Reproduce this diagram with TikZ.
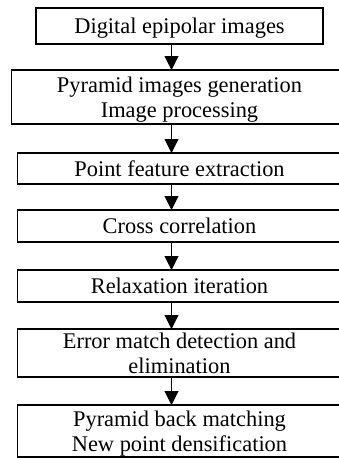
\documentclass[tikz,border=0pt]{standalone}
\usepackage{fontspec}
\setmainfont{Liberation Serif}
\usetikzlibrary{positioning,arrows.meta}

\begin{document}
\begin{tikzpicture}[->,>={Triangle[width=14pt,length=14pt]},x=1pt,y=1pt,
                    line width=1pt]
  \tikzstyle{stage}=[draw,line width=1.2pt,minimum width=324pt,inner sep=0pt,
                     outer sep=0pt,align=center,text depth=0pt,
                     font=\fontsize{22.4}{24.5}\selectfont]

  \path[use as bounding box,clip] (0,0) rectangle (339,-458);

  \node[stage,minimum width=287pt,minimum height=36pt] (A) at (179.5,-26)   {Digital epipolar images};
  \node[stage,minimum width=336pt,minimum height=54pt] (B) [below=26pt of A] {Pyramid images generation\\Image processing};
  \node[stage,minimum height=31pt]                     (C) [below=29pt of B] {Point feature extraction};
  \node[stage,minimum height=32pt]                     (D) [below=26pt of C] {Cross correlation};
  \node[stage,minimum height=32pt]                     (E) [below=28pt of D] {Relaxation iteration};
  \node[stage,minimum height=48pt,text depth=-9pt]     (F) [below=27pt of E] {Error match detection and\\elimination};
  \node[stage,minimum height=52pt,text depth=-2pt]     (G) [below=28pt of F] {Pyramid back matching\\New point densification};

  \draw ([xshift=-8pt]A.south) -- ([xshift=-8pt]B.north);
  \draw ([xshift=-8pt]B.south) -- ([xshift=-8pt]C.north);
  \draw ([xshift=-8pt]C.south) -- ([xshift=-8pt]D.north);
  \draw ([xshift=-8pt]D.south) -- ([xshift=-8pt]E.north);
  \draw ([xshift=-8pt]E.south) -- ([xshift=-8pt]F.north);
  \draw ([xshift=-8pt]F.south) -- ([xshift=-8pt]G.north);

\end{tikzpicture}
\end{document}
